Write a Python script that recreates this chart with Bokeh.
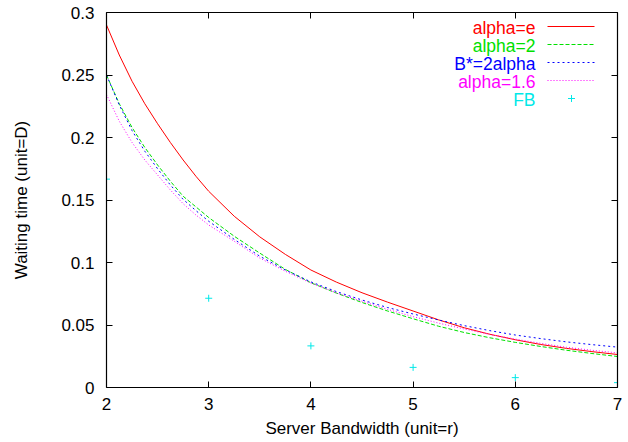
from bokeh.plotting import figure
from bokeh.models import FixedTicker, LinearAxis, Label
from bokeh.embed import file_html
from bokeh.resources import INLINE

# ---------------- data ----------------
bandwidth = [2.0, 2.125, 2.25, 2.375, 2.5, 2.625, 2.75, 2.875, 3.0, 3.25, 3.5, 3.75, 4.0, 4.25, 4.5,
             4.75, 5.0, 5.25, 5.5, 5.75, 6.0, 6.25, 6.5, 6.75, 7.0]
wait_alpha_e = [0.290, 0.266, 0.245, 0.227, 0.211, 0.196, 0.182, 0.169, 0.157, 0.137, 0.1205, 0.1065,
                0.0940, 0.0843, 0.0758, 0.0683, 0.0612, 0.0541, 0.0478, 0.0426, 0.0382, 0.0344,
                0.0313, 0.0287, 0.0264]
wait_alpha_2 = [0.250, 0.227, 0.208, 0.192, 0.178, 0.165, 0.153, 0.1445, 0.136, 0.121, 0.1075, 0.0945,
                0.0838, 0.0755, 0.0680, 0.0612, 0.0550, 0.0490, 0.0440, 0.0398, 0.0361, 0.0328,
                0.0298, 0.0272, 0.0248]
wait_bstar = [0.250, 0.226, 0.2055, 0.189, 0.175, 0.162, 0.1505, 0.1415, 0.133, 0.1185, 0.105, 0.094,
              0.0845, 0.0767, 0.0700, 0.0640, 0.0588, 0.0540, 0.0495, 0.0455, 0.0420, 0.0391,
              0.0365, 0.0343, 0.0323]
wait_alpha_16 = [0.2344, 0.213, 0.196, 0.182, 0.170, 0.158, 0.147, 0.138, 0.130, 0.117, 0.1035, 0.093,
                 0.0835, 0.0757, 0.0690, 0.0625, 0.0567, 0.0515, 0.0468, 0.0425, 0.0387, 0.0353,
                 0.0322, 0.0298, 0.0277]
fb_bandwidth = [2, 3, 4, 5, 6, 7]
fb_wait = [0.1667, 0.0714, 0.0333, 0.0161, 0.0079, 0.0039]

series_names = ["alpha=e", "alpha=2", "B*=2alpha", "alpha=1.6", "FB"]
x_ticks = [2, 3, 4, 5, 6, 7]
y_ticks = [0, 0.05, 0.1, 0.15, 0.2, 0.25, 0.3]
y_tick_labels = ["0", "0.05", "0.1", "0.15", "0.2", "0.25", "0.3"]
x_title = "Server Bandwidth (unit=r)"
y_title = "Waiting time (unit=D)"

# ---------------- style ----------------
W, H = 628, 442
FL, FR, FT, FB_ = 106, 617, 12, 387
X0, X1, Y0, Y1 = 2, 7, 0, 0.3
FONT = "Liberation Sans"
FS = "17px"
colors = ["#ff0000", "#00e000", "#0000ff", "#ff00ff", "#00e8e8"]
dashes = ["solid", "4 2", "2 3", "1 2"]

p = figure(width=W, height=H, x_range=(X0, X1), y_range=(Y0, Y1),
           output_backend="svg", toolbar_location=None,
           min_border_left=FL, min_border_right=W - FR,
           min_border_top=FT, min_border_bottom=H - FB_)
p.grid.visible = False
p.outline_line_color = None
p.background_fill_color = "white"
p.border_fill_color = "white"

def style_axis(ax, ticks, labels=True):
    ax.ticker = FixedTicker(ticks=ticks)
    ax.major_tick_in = 6
    ax.major_tick_out = 0
    ax.minor_tick_line_color = None
    ax.axis_line_color = "black"
    ax.axis_line_width = 1.2
    ax.major_tick_line_color = "black"
    ax.major_label_text_font = FONT
    if labels:
        ax.major_label_text_font_size = FS
        ax.major_label_text_color = "black"
    else:
        ax.major_label_text_font_size = "1px"
        ax.major_label_text_color = None
    ax.axis_label_text_font = FONT
    ax.axis_label_text_font_size = FS
    ax.axis_label_text_font_style = "normal"
    ax.axis_label_text_color = "black"

style_axis(p.xaxis[0], x_ticks)
style_axis(p.yaxis[0], y_ticks)
p.yaxis[0].major_label_overrides = {t: l for t, l in zip(y_ticks, y_tick_labels)}
p.xaxis[0].major_label_standoff = 10
p.yaxis[0].major_label_standoff = 12
p.xaxis[0].axis_label = x_title
p.yaxis[0].axis_label = y_title
p.xaxis[0].axis_label_standoff = 6
p.yaxis[0].axis_label_standoff = 27

ax_top = LinearAxis()
style_axis(ax_top, x_ticks, labels=False)
ax_top.major_label_standoff = 0
p.add_layout(ax_top, "above")
ax_right = LinearAxis()
style_axis(ax_right, y_ticks, labels=False)
ax_right.major_label_standoff = 0
p.add_layout(ax_right, "right")

series = [wait_alpha_e, wait_alpha_2, wait_bstar, wait_alpha_16]
for ys, c, d in zip(series, colors, dashes):
    p.line(bandwidth, ys, line_color=c, line_width=1, line_dash=d)
p.scatter(fb_bandwidth, fb_wait, marker="cross", size=7, line_color=colors[4], line_width=1)

# ---------------- legend (gnuplot style: text left of sample) ----------------
def dx(px):
    return X0 + (px - FL) / (FR - FL) * (X1 - X0)

def dy(py):
    return Y0 + (FB_ - py) / (FB_ - FT) * (Y1 - Y0)

rows = [26, 44, 62, 80, 98]
for i, (name, c, row) in enumerate(zip(series_names, colors, rows)):
    p.add_layout(Label(x=dx(535), y=dy(row + 1), text=name, text_align="right",
                       text_baseline="middle", text_color=c, text_font=FONT,
                       text_font_size="17.5px"))
    if i < 4:
        p.line([dx(547), dx(594)], [dy(row), dy(row)], line_color=c,
               line_width=1, line_dash=dashes[i])
    else:
        p.scatter([dx(571)], [dy(row)], marker="cross", size=7,
                  line_color=c, line_width=1)

open("out.html", "w").write(file_html(p, INLINE))
